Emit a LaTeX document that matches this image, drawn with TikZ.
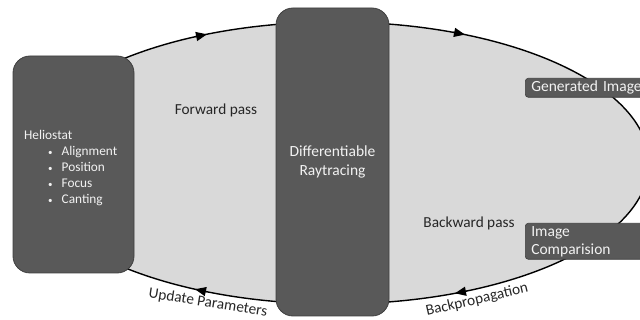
\documentclass[tikz,border=0pt]{standalone}
\usepackage{fontspec}
\setmainfont{Carlito}
\usetikzlibrary{arrows.meta}
\definecolor{ellfill}{HTML}{D9D9D9}
\definecolor{boxfill}{HTML}{595959}
\definecolor{boxline}{HTML}{3F3F3F}
\definecolor{txtdark}{HTML}{262626}
\definecolor{txtlight}{HTML}{F2F2F2}
\begin{document}
\begin{tikzpicture}[x=1pt,y=-1pt,
  bigbox/.style={draw=boxline, line width=0.8pt, fill=boxfill, rounded corners=17pt, text=txtlight, align=center, inner sep=0pt},
  labelbox/.style={draw=boxline, line width=0.6pt, fill=boxfill, rounded corners=3pt, text=txtlight, align=left, anchor=north west, inner xsep=6pt, inner ysep=0pt, text width=120pt},
  darktext/.style={text=txtdark, font=\fontsize{15.3}{18}\selectfont, inner sep=0pt},
  flowtip/.style={line width=1.4pt, -{Triangle[length=11pt,width=9pt]}}
]
\clip (0,0) rectangle (640,320);
% cycle ellipse
\path[fill=ellfill, draw=black, line width=1.4pt] (335,163) ellipse [x radius=314, y radius=141];
% arrowheads along the cycle
\coordinate (fa1t) at (195.2,36.7); \coordinate (fa1) at (207,34.3);
\coordinate (fa2t) at (453.2,32.2); \coordinate (fa2) at (465,34.6);
\coordinate (ba1t) at (206.7,291.8); \coordinate (ba1) at (195,289.2);
\coordinate (ba2t) at (466.8,291.1); \coordinate (ba2) at (455,293.3);
\draw[flowtip] (fa1t) -- (fa1);
\draw[flowtip] (fa2t) -- (fa2);
\draw[flowtip] (ba1t) -- (ba1);
\draw[flowtip] (ba2t) -- (ba2);
% boxes
\node[bigbox, minimum width=121pt, minimum height=217pt] (helio) at (73.5,164.5) {};
\node[text=txtlight, anchor=north west, align=left, inner sep=0pt,
      font=\fontsize{13.3}{16}\selectfont] (heliotext) at (24,130)
  {Heliostat\\
   \hspace{24pt}{\small\textbullet}\hspace{9pt}Alignment\\
   \hspace{24pt}{\small\textbullet}\hspace{9pt}Position\\
   \hspace{24pt}{\small\textbullet}\hspace{9pt}Focus\\
   \hspace{24pt}{\small\textbullet}\hspace{9pt}Canting};
\node[bigbox, minimum width=113pt, minimum height=308pt,
      font=\fontsize{15.5}{18.5}\selectfont] (raytrace) at (332.5,162)
  {Differentiable\\Raytracing};
% labels on the right
\node[labelbox, minimum height=19pt, font=\fontsize{15.5}{18}\selectfont] (genimg) at (525,78) {Generated Image};
\node[labelbox, minimum height=36pt, font=\fontsize{15.5}{18}\selectfont] (imgcomp) at (525,223) {Image\\Comparision};
% texts
\node[darktext] (fwd) at (216,110) {Forward pass};
\node[darktext] (bwd) at (469,223) {Backward pass};
\node[darktext, rotate=-9] (upd) at (208,303) {Update Parameters};
\node[darktext, rotate=13] (bprop) at (477,300) {Backpropagation};
\end{tikzpicture}
\end{document}
